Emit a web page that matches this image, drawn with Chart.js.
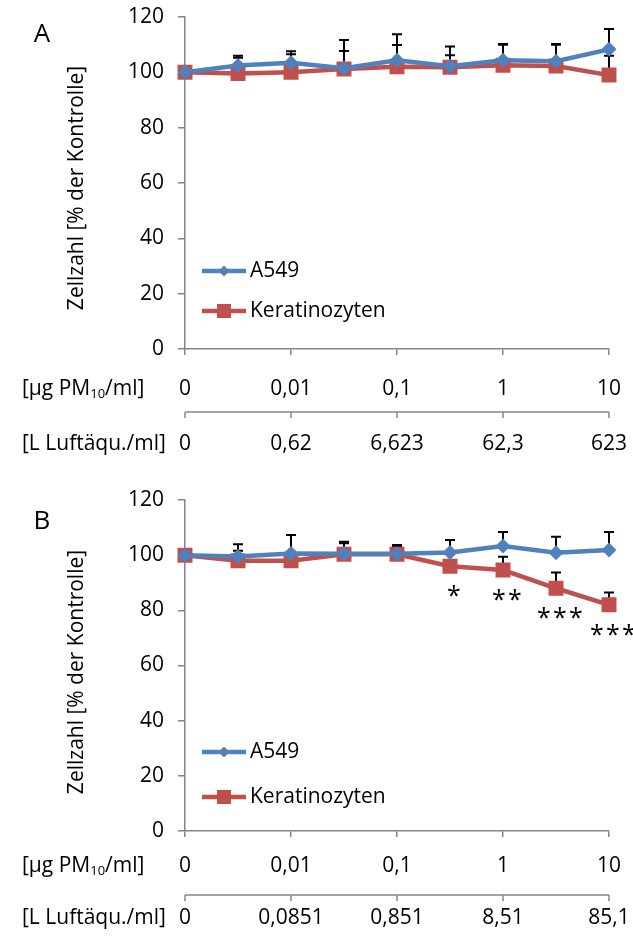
<!DOCTYPE html>
<html>
<head>
<meta charset="utf-8">
<script src="https://cdn.jsdelivr.net/npm/chart.js@4/dist/chart.umd.min.js"></script>
<style>
  html, body { margin: 0; padding: 0; background: #ffffff; }
  #wrap { position: relative; width: 633px; height: 942px; }
  #wrap canvas { position: absolute; left: 0; }
  #chartA { top: 0; }
  #chartB { top: 471px; }
</style>
</head>
<body>
<div id="wrap">
  <canvas id="chartA" width="633" height="471"></canvas>
  <canvas id="chartB" width="633" height="471"></canvas>
</div>
<script>
// Dose steps: nine concentrations, labelled every second step
const doseLabels = ['0', '', '0,01', '', '0,1', '', '1', '', '10'];
const airLabelsA = ['0', '', '0,62', '', '6,623', '', '62,3', '', '623'];
const airLabelsB = ['0', '', '0,0851', '', '0,851', '', '8,51', '', '85,1'];

// Panel A: cell count in % of control (mean) and upper SD
const a549A    = [100, 102.5, 103.5, 101.5, 104.4, 102.2, 104.4, 104, 108.3];
const a549ErrA = [0, 3.5, 4.1, 10.2, 9.4, 7.1, 5.8, 6.2, 7.4];
const keraA    = [100, 99.6, 100, 101.2, 102, 101.8, 102.6, 102.3, 99];
const keraErrA = [0, 5.7, 6.5, 6.5, 7.9, 4.4, 7.4, 7.7, 7];

// Panel B
const a549B    = [100, 99.5, 100.6, 100.5, 100.5, 101, 103.3, 100.9, 101.9];
const a549ErrB = [0, 4.5, 6.7, 4.4, 3.2, 4.5, 5.1, 5.8, 6.5];
const keraB    = [100, 98, 98, 100.3, 100.3, 96, 94.6, 88, 82];
const keraErrB = [0, 3.6, 3.2, 4, 2.7, 4.6, 4.8, 5.7, 4.5];
const sigB     = ['', '', '', '', '', '*', '**', '***', '***'];

const FONT = '"Open Sans", Lato, sans-serif';
const FS = 21;
const BLUE = '#4F81BD';
const RED = '#C0504D';
const AXIS = '#868686';

// Error bars, significance marks, second dose axis, legend and titles
const panelDecor = {
  id: 'panelDecor',
  beforeDatasetsDraw(chart, args, o) {
    const ctx = chart.ctx, y = chart.scales.y;
    ctx.save();
    ctx.strokeStyle = '#000';
    ctx.lineWidth = 2;
    chart.data.datasets.forEach((ds, i) => {
      const meta = chart.getDatasetMeta(i);
      o.errors[i].forEach((e, j) => {
        if (!e) return;
        const px = meta.data[j].x;
        const y0 = y.getPixelForValue(ds.data[j]);
        const y1 = y.getPixelForValue(ds.data[j] + e);
        ctx.beginPath();
        ctx.moveTo(px, y0); ctx.lineTo(px, y1);
        ctx.moveTo(px - 5, y1); ctx.lineTo(px + 5, y1);
        ctx.stroke();
      });
    });
    ctx.restore();
  },
  afterDatasetsDraw(chart, args, o) {
    if (!o.sig) return;
    const ctx = chart.ctx, y = chart.scales.y;
    const meta = chart.getDatasetMeta(1);
    ctx.save();
    ctx.fillStyle = '#000';
    ctx.font = '25px ' + FONT;
    ctx.textAlign = 'center';
    ctx.textBaseline = 'alphabetic';
    const m = ctx.measureText('*');
    const shift = (m.actualBoundingBoxAscent - m.actualBoundingBoxDescent) / 2;
    o.sig.forEach((s, j) => {
      if (!s) return;
      const cx = meta.data[j].x + 4;
      const cy = y.getPixelForValue(chart.data.datasets[1].data[j]) + 25;
      for (let k = 0; k < s.length; k++) {
        ctx.fillText('*', cx + (k - (s.length - 1) / 2) * 16, cy + shift);
      }
    });
    ctx.restore();
  },
  afterDraw(chart, args, o) {
    const ctx = chart.ctx, x = chart.scales.x;
    ctx.save();
    ctx.fillStyle = '#000';

    // panel letter
    ctx.font = '26px ' + FONT;
    ctx.textAlign = 'center';
    ctx.textBaseline = 'middle';
    ctx.fillText(o.letter, 42, o.letterY);

    // y-axis title
    ctx.save();
    ctx.translate(77, o.titleY);
    ctx.rotate(-Math.PI / 2);
    ctx.font = FS + 'px ' + FONT;
    ctx.fillText('Zellzahl [% der Kontrolle]', 0, 0);
    ctx.restore();

    // row titles
    ctx.textAlign = 'left';
    ctx.font = FS + 'px ' + FONT;
    let tx = 22;
    ctx.fillText('[µg PM', tx, o.doseY);
    tx += ctx.measureText('[µg PM').width;
    ctx.font = '13px ' + FONT;
    ctx.fillText('10', tx, o.doseY + 5);
    tx += ctx.measureText('10').width;
    ctx.font = FS + 'px ' + FONT;
    ctx.fillText('/ml]', tx, o.doseY);
    ctx.fillText('[L Luftäqu./ml]', 22, o.airY);

    // second (air volume) axis
    const xs = doseLabels.map((_, i) => x.getPixelForValue(i));
    ctx.strokeStyle = AXIS;
    ctx.lineWidth = 1.5;
    ctx.beginPath();
    ctx.moveTo(xs[0], o.lineY); ctx.lineTo(xs[xs.length - 1], o.lineY);
    xs.forEach((px, i) => {
      if (i % 2 === 0) { ctx.moveTo(px, o.lineY); ctx.lineTo(px, o.lineY + 6); }
    });
    ctx.stroke();
    ctx.textAlign = 'center';
    o.airLabels.forEach((t, i) => { if (t) ctx.fillText(t, xs[i], o.airY); });

    // legend
    const items = [
      { label: 'A549', color: BLUE, shape: 'diamond', y: o.legendY[0] },
      { label: 'Keratinozyten', color: RED, shape: 'square', y: o.legendY[1] }
    ];
    items.forEach(it => {
      ctx.strokeStyle = it.color;
      ctx.fillStyle = it.color;
      ctx.lineWidth = 4.5;
      ctx.beginPath();
      ctx.moveTo(202, it.y); ctx.lineTo(246, it.y);
      ctx.stroke();
      ctx.beginPath();
      if (it.shape === 'diamond') {
        ctx.moveTo(224 - 5.5, it.y); ctx.lineTo(224, it.y - 5.5);
        ctx.lineTo(224 + 5.5, it.y); ctx.lineTo(224, it.y + 5.5);
        ctx.closePath();
      } else {
        ctx.rect(224 - 7, it.y - 7, 14, 14);
      }
      ctx.fill();
      ctx.fillStyle = '#000';
      ctx.font = FS + 'px ' + FONT;
      ctx.textAlign = 'left';
      ctx.fillText(it.label, 250, it.y);
    });
    ctx.restore();
  }
};

function makePanel(id, blue, red, errs, airLabels, layout) {
  return new Chart(document.getElementById(id), {
    type: 'line',
    data: {
      labels: doseLabels,
      datasets: [
        {
          label: 'A549', data: blue,
          borderColor: BLUE, backgroundColor: BLUE, borderWidth: 4.5,
          pointStyle: 'rectRot', pointRadius: 7.5, pointBorderWidth: 0,
          pointBackgroundColor: BLUE, tension: 0
        },
        {
          label: 'Keratinozyten', data: red,
          borderColor: RED, backgroundColor: RED, borderWidth: 4.5,
          pointStyle: 'rect', pointRadius: 10.6, pointBorderWidth: 0,
          pointBackgroundColor: RED, tension: 0
        }
      ]
    },
    options: {
      responsive: false,
      animation: false,
      layout: { padding: { top: layout.top, right: 24, left: 0, bottom: 0 } },
      plugins: {
        legend: { display: false },
        tooltip: { enabled: false },
        panelDecor: {
          errors: errs, sig: layout.sig, airLabels: airLabels,
          letter: layout.letter, letterY: layout.letterY, titleY: layout.titleY,
          doseY: layout.doseY, lineY: layout.lineY, airY: layout.airY,
          legendY: layout.legendY
        }
      },
      scales: {
        x: {
          ticks: {
            autoSkip: false, maxRotation: 0, color: '#000',
            font: { family: FONT, size: FS }, padding: layout.tickPad,
            callback: (v, i) => doseLabels[i]
          },
          grid: {
            drawOnChartArea: false, tickLength: 6, lineWidth: 1.5,
            color: c => (c.index % 2 === 0 ? AXIS : 'rgba(0,0,0,0)')
          },
          border: { color: AXIS, width: 1.5 },
          afterFit: s => { s.height = layout.xHeight; s.paddingLeft = 0; s.paddingRight = 0; }
        },
        y: {
          min: 0, max: 120,
          ticks: { stepSize: 20, color: '#000', font: { family: FONT, size: FS }, padding: 14 },
          grid: { drawOnChartArea: false, tickLength: 7, color: AXIS, lineWidth: 1.5 },
          border: { color: AXIS, width: 1.5 },
          afterFit: s => { s.width = 185; s.paddingTop = 0; s.paddingBottom = 0; }
        }
      }
    },
    plugins: [panelDecor]
  });
}

makePanel('chartA', a549A, keraA, [a549ErrA, keraErrA], airLabelsA, {
  top: 17, xHeight: 122, tickPad: 21, letter: 'A', letterY: 35, titleY: 188,
  doseY: 389, lineY: 412, airY: 444, legendY: [271, 311], sig: null
});
makePanel('chartB', a549B, keraB, [a549ErrB, keraErrB], airLabelsB, {
  top: 29, xHeight: 111, tickPad: 16, letter: 'B', letterY: 51, titleY: 201,
  doseY: 395, lineY: 424, airY: 447, legendY: [281, 326], sig: sigB
});
</script>
</body>
</html>
